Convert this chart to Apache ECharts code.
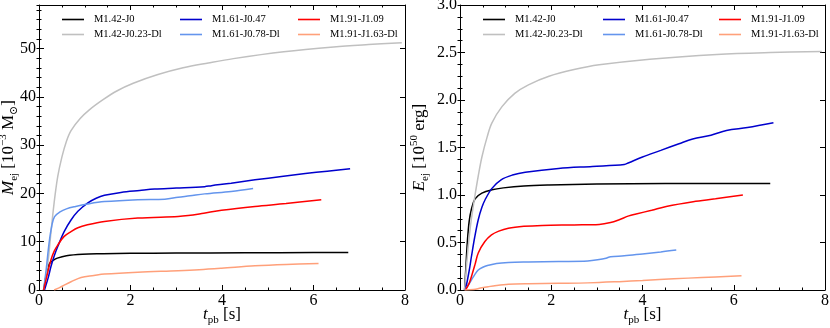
<!DOCTYPE html>
<html>
<head>
<meta charset="utf-8">
<script src="https://cdn.jsdelivr.net/npm/echarts@6/dist/echarts.min.js"></script>
<style>
html,body{margin:0;padding:0;background:#fff;}
#chart{width:830px;height:328px;}
</style>
</head>
<body>
<div id="chart"></div>
<script>
// ---- series names ----
const seriesNames = ['M1.42-J0','M1.42-J0.23-Dl','M1.61-J0.47','M1.61-J0.78-Dl','M1.91-J1.09','M1.91-J1.63-Dl'];
const seriesColors = ['#000000','#c0c0c0','#0000cd','#6495ed','#ff0000','#ffa07a'];

// ---- tick labels ----
const xTicks = [0,2,4,6,8];
const mejTicks = [0,10,20,30,40,50];
const eejTicks = ['0.0','0.5','1.0','1.5','2.0','2.5','3.0'];

// ---- left panel: ejecta mass [1e-3 Msun] vs t_pb [s] ----
const tM_142_J0 = [0.1,0.14,0.18,0.23,0.3,0.4,0.6,0.95,1.4,2.0,3.0,4.5,6.0,6.76];
const M_142_J0  = [0,2.2,4.3,5.5,6.1,6.6,7.1,7.4,7.5,7.6,7.65,7.7,7.75,7.75];
const tM_142_J023 = [0.1,0.15,0.2,0.26,0.33,0.41,0.5,0.6,0.7,0.9,1.1,1.4,1.7,2.06,2.6,3.15,3.7,4.25,5.35,6.44,7.2,7.93];
const M_142_J023  = [0,3,6,11.8,18,23.5,27.5,30.8,33,35.5,37.3,39.4,41.2,42.8,44.6,46,47,47.9,49.3,50.3,50.8,51.2];
const tM_161_J047 = [0.12,0.2,0.26,0.33,0.41,0.55,0.7,0.85,1.06,1.25,1.43,1.79,2.2,2.53,3.0,3.62,3.77,4.2,4.72,5.3,5.82,6.3,6.8];
const M_161_J047  = [0,2.5,4.8,7,9,12.1,14.5,16.3,18,19,19.6,20.2,20.6,20.9,21.1,21.4,21.6,22.1,22.8,23.5,24.1,24.6,25.1];
const tM_161_J078 = [0.1,0.16,0.22,0.28,0.34,0.45,0.6,0.8,1.06,1.43,2.16,2.75,3.04,3.3,3.62,4.2,4.68];
const M_161_J078  = [0,4.5,9.7,13.3,15.2,16.1,16.8,17.3,17.8,18.3,18.7,18.8,19.2,19.5,19.9,20.4,21.0];
const tM_191_J109 = [0.1,0.18,0.26,0.33,0.41,0.55,0.7,0.85,1.06,1.43,2.16,3.04,3.26,3.6,3.99,4.72,5.4,6.17];
const M_191_J109  = [0,3.2,6.2,8,9.3,11.1,12.1,12.9,13.5,14.2,14.9,15.2,15.4,15.9,16.5,17.3,17.9,18.7];
const tM_191_J163 = [0.33,0.45,0.55,0.7,0.92,1.2,1.43,2.16,3.04,3.5,3.99,4.72,5.4,6.11];
const M_191_J163  = [0,0.5,1.0,1.7,2.6,3.0,3.3,3.7,4.0,4.2,4.5,5.0,5.3,5.5];

// ---- right panel: ejecta energy [1e50 erg] vs t_pb [s] ----
const tE_142_J0 = [0.1,0.13,0.16,0.2,0.25,0.33,0.48,0.7,0.95,1.4,1.95,3.0,4.5,6.8];
const E_142_J0  = [0,0.25,0.5,0.72,0.85,0.96,1.02,1.055,1.075,1.095,1.105,1.115,1.12,1.12];
const tE_142_J023 = [0.1,0.15,0.2,0.25,0.33,0.4,0.48,0.6,0.7,0.92,1.2,1.5,1.95,2.5,3.05,4.16,5.63,6.8,7.93];
const E_142_J023  = [0,0.3,0.55,0.75,1.0,1.2,1.4,1.62,1.76,1.93,2.07,2.16,2.25,2.32,2.37,2.43,2.48,2.5,2.51];
const tE_161_J047 = [0.12,0.2,0.25,0.32,0.4,0.48,0.55,0.7,0.9,1.15,1.43,2.16,2.9,3.6,3.7,4.0,4.4,4.8,5.1,5.5,5.84,6.3,6.87];
const E_161_J047  = [0,0.2,0.35,0.55,0.74,0.87,0.95,1.07,1.16,1.21,1.24,1.28,1.30,1.32,1.34,1.40,1.47,1.54,1.59,1.63,1.68,1.71,1.76];
const tE_161_J078 = [0.1,0.18,0.25,0.32,0.4,0.5,0.62,0.8,1.06,1.5,2.16,2.8,3.05,3.2,3.3,3.6,4.0,4.4,4.74];
const E_161_J078  = [0,0.05,0.105,0.16,0.21,0.24,0.26,0.28,0.29,0.295,0.30,0.305,0.32,0.335,0.35,0.36,0.38,0.40,0.42];
const tE_191_J109 = [0.12,0.2,0.25,0.33,0.4,0.545,0.69,0.85,1.06,1.4,1.8,2.5,3.05,3.3,3.49,3.7,3.86,4.2,4.52,5.11,5.6,6.2];
const E_191_J109  = [0,0.07,0.14,0.27,0.39,0.51,0.58,0.62,0.65,0.67,0.68,0.685,0.69,0.71,0.74,0.78,0.80,0.84,0.88,0.93,0.96,1.0];
const tE_191_J163 = [0.1,0.3,0.45,0.62,0.8,1.06,1.5,2.16,2.8,3.49,4.0,4.37,5.0,5.6,6.17];
const E_191_J163  = [0,0.005,0.02,0.035,0.048,0.06,0.066,0.07,0.075,0.088,0.1,0.11,0.125,0.138,0.15];

const massT = [tM_142_J0,tM_142_J023,tM_161_J047,tM_161_J078,tM_191_J109,tM_191_J163];
const massV = [M_142_J0,M_142_J023,M_161_J047,M_161_J078,M_191_J109,M_191_J163];
const enerT = [tE_142_J0,tE_142_J023,tE_161_J047,tE_161_J078,tE_191_J109,tE_191_J163];
const enerV = [E_142_J0,E_142_J023,E_161_J047,E_161_J078,E_191_J109,E_191_J163];

const SERIF = '"Liberation Serif","DejaVu Serif",serif';
const zip = (a,b) => a.map((v,i)=>[v,b[i]]);

const nameRich = {
  i: {fontFamily: SERIF, fontStyle: 'italic', fontSize: 17, lineHeight: 22, color: '#000'},
  r: {fontFamily: SERIF, fontSize: 17, lineHeight: 22, color: '#000'},
  s: {fontFamily: SERIF, fontSize: 11, lineHeight: 12, verticalAlign: 'bottom', color: '#000'},
  p: {fontFamily: SERIF, fontSize: 11, lineHeight: 12, verticalAlign: 'top', color: '#000'}
};
const lineSt = {color: '#000', width: 1};

function xAxes(g) {
  const base = {
    gridIndex: g, type: 'value', min: 0, max: 8, interval: 2,
    splitLine: {show: false},
    axisLine: {show: true, onZero: false, lineStyle: lineSt},
    axisTick: {show: true, inside: true, length: 5, lineStyle: lineSt},
    minorTick: {show: true, splitNumber: 4, length: 2.5, lineStyle: lineSt}
  };
  return [
    Object.assign({}, base, {
      position: 'bottom',
      axisLabel: {show: true, margin: 3, fontFamily: SERIF, fontSize: 16, color: '#000',
        formatter: v => xTicks.includes(v) ? String(v) : ''},
      name: '{i|t}{s|pb}{r| [s]}', nameLocation: 'middle', nameGap: 14, nameMoveOverlap: false,
      nameTextStyle: {rich: nameRich}
    }),
    Object.assign({}, base, {position: 'top', axisLabel: {show: false}})
  ];
}

function yAxesPanel(g, max, interval, minorInt, labelFn, name, nameGap) {
  const base = {
    gridIndex: g, type: 'value', min: 0, max: max, interval: interval,
    splitLine: {show: false},
    axisLine: {show: true, onZero: false, lineStyle: lineSt},
    axisTick: {show: true, inside: true, length: 5, lineStyle: lineSt}
  };
  const minor = {
    gridIndex: g, type: 'value', min: 0, max: max, interval: minorInt,
    splitLine: {show: false},
    axisLine: {show: false},
    axisLabel: {show: false},
    axisTick: {show: true, inside: true, length: 2.5, lineStyle: lineSt}
  };
  return [
    Object.assign({}, base, {
      position: 'left',
      axisLabel: {show: true, margin: 3, fontFamily: SERIF, fontSize: 16, color: '#000',
        showMaxLabel: true, showMinLabel: true, formatter: labelFn},
      name: name, nameLocation: 'middle', nameGap: nameGap, nameRotate: 90, nameMoveOverlap: false,
      nameTextStyle: {rich: nameRich}
    }),
    Object.assign({}, base, {position: 'right', axisLabel: {show: false}}),
    Object.assign({}, minor, {position: 'left'}),
    Object.assign({}, minor, {position: 'right'})
  ];
}

const yAx = [].concat(
  yAxesPanel(0, 59, 10, 2, v => mejTicks.includes(v) ? String(v) : '',
    '{i|M}{s|ej}{r| [10}{p|−3}{r| M}{s|⊙}{r|]}', 19),
  yAxesPanel(1, 3, 0.5, 0.125, v => { const s = v.toFixed(1); return eejTicks.includes(s) ? s : ''; },
    '{i|E}{s|ej}{r| [10}{p|50}{r| erg]}', 29)
);

const series = [];
seriesNames.forEach((nm, k) => {
  series.push({
    name: nm, type: 'line', xAxisIndex: 0, yAxisIndex: 0,
    data: zip(massT[k], massV[k]), showSymbol: false, symbol: 'none',
    smooth: 0.35,
    lineStyle: {color: seriesColors[k], width: 1.5}, itemStyle: {color: seriesColors[k]},
    z: 2 + k, animation: false
  });
  series.push({
    name: nm, type: 'line', xAxisIndex: 2, yAxisIndex: 4,
    data: zip(enerT[k], enerV[k]), showSymbol: false, symbol: 'none',
    smooth: 0.35,
    lineStyle: {color: seriesColors[k], width: 1.5}, itemStyle: {color: seriesColors[k]},
    z: 2 + k, animation: false
  });
});

function legendCol(left, names) {
  return {
    orient: 'vertical', left: left, top: 14, padding: 0,
    icon: 'rect', itemWidth: 22, itemHeight: 1.6, itemGap: 4,
    selectedMode: false,
    textStyle: {fontFamily: SERIF, fontSize: 10.5, lineHeight: 10, color: '#000', padding: [0,0,0,5]},
    data: names
  };
}
const legends = [
  legendCol(62, [seriesNames[0], seriesNames[1]]),
  legendCol(180, [seriesNames[2], seriesNames[3]]),
  legendCol(298, [seriesNames[4], seriesNames[5]]),
  legendCol(483, [seriesNames[0], seriesNames[1]]),
  legendCol(603, [seriesNames[2], seriesNames[3]]),
  legendCol(719, [seriesNames[4], seriesNames[5]])
];

const chart = echarts.init(document.getElementById('chart'), null, {renderer: 'canvas'});
chart.setOption({
  animation: false,
  backgroundColor: '#fff',
  grid: [
    {left: 39, top: 5, width: 366, height: 285, containLabel: false, outerBoundsMode: 'none'},
    {left: 460, top: 5, width: 365, height: 285, containLabel: false, outerBoundsMode: 'none'}
  ],
  xAxis: [].concat(xAxes(0), xAxes(1)),
  yAxis: yAx,
  legend: legends,
  series: series
});
</script>
</body>
</html>
